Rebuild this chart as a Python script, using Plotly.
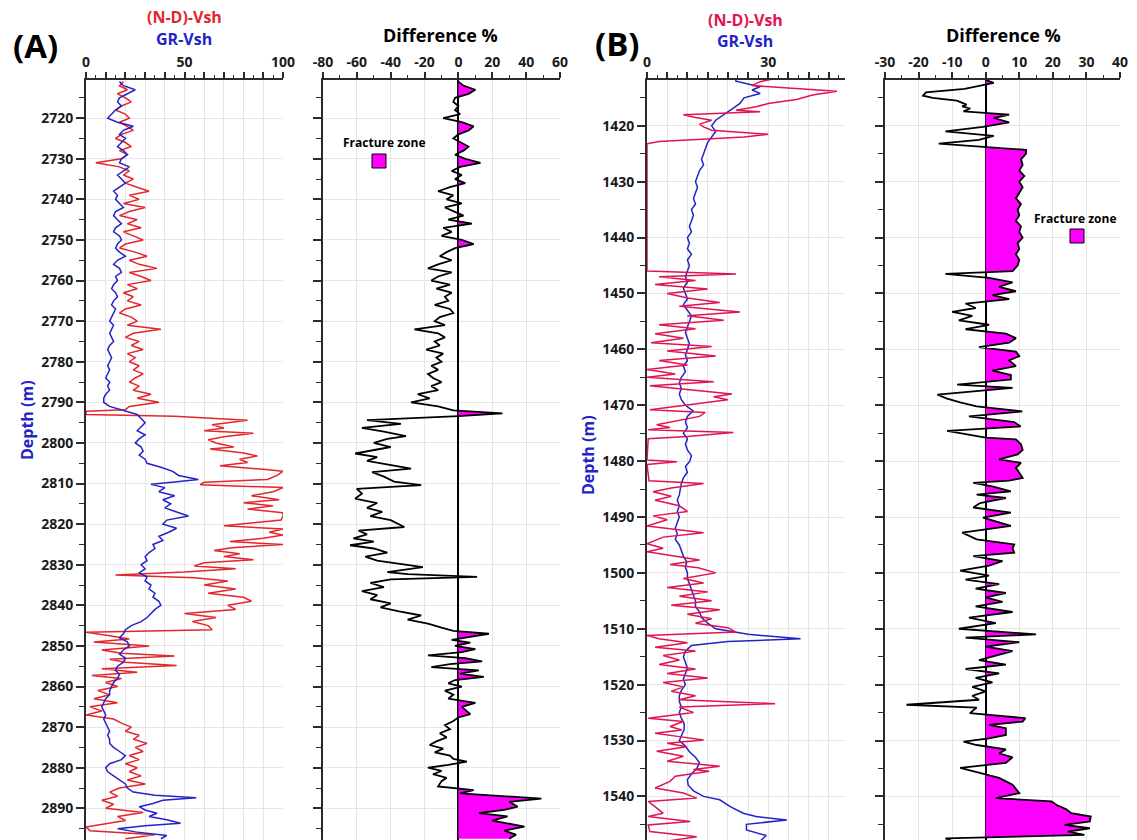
import plotly.graph_objects as go

# ---------------- DATA ----------------
# Well A
A_nd_depth = [2711, 2712, 2713, 2714, 2715, 2716, 2717, 2718, 2719, 2720, 2721, 2722, 2723, 2724, 2725, 2726, 2727, 2728, 2729, 2730,
              2731, 2732, 2733, 2734, 2735, 2736, 2737, 2738, 2739, 2740, 2741, 2742, 2743, 2744, 2745, 2746, 2747, 2748, 2749, 2750,
              2751, 2752, 2753, 2754, 2755, 2756, 2757, 2758, 2759, 2760, 2761, 2762, 2763, 2764, 2765, 2766, 2767, 2768, 2769, 2770,
              2771, 2772, 2773, 2774, 2775, 2776, 2777, 2778, 2779, 2780, 2781, 2782, 2783, 2784, 2785, 2786, 2787, 2788, 2789, 2790,
              2791, 2791.8, 2792.2, 2793, 2793.4, 2794.4, 2795.5, 2796.3, 2797, 2797.6, 2798.5, 2799.2, 2800, 2801, 2801.5, 2802.5,
              2803.2, 2804, 2804.8, 2805.6, 2806.5, 2807, 2808, 2809, 2809.7, 2810.3, 2811, 2812, 2813, 2814, 2814.7, 2815.5, 2816.3,
              2817.2, 2818, 2819, 2820.4, 2821.2, 2822, 2822.7, 2823.5, 2824.3, 2825, 2825.8, 2826.5, 2827.3, 2828, 2828.8, 2829.5,
              2830.3, 2831, 2831.8, 2832.5, 2833.2, 2834, 2835, 2836, 2837, 2838, 2839, 2840, 2841, 2842, 2843, 2844, 2845, 2846,
              2846.6, 2847.5, 2848.3, 2849, 2850, 2851, 2851.8, 2852.5, 2853.3, 2854, 2854.8, 2855.6, 2856.5, 2857.3, 2858, 2859,
              2860, 2861, 2862, 2863, 2864, 2865, 2866, 2867, 2868, 2869, 2870, 2871, 2872, 2873, 2874, 2875, 2876, 2877, 2878, 2879,
              2880, 2881, 2882, 2883, 2884, 2885, 2886, 2887, 2888, 2889, 2890, 2891, 2892, 2893, 2894, 2894.6, 2895.5, 2896.5, 2897.5]
A_nd_vsh = [19, 17, 21, 16, 20, 23, 18, 15, 20, 22, 17, 21, 24, 18, 15, 20, 23, 17, 21, 18,
            5, 17, 22, 19, 24, 20, 26, 32, 22, 27, 19, 30, 22, 17, 26, 21, 28, 19, 24, 29,
            20, 17, 25, 31, 22, 27, 36, 22, 28, 33, 21, 26, 19, 24, 21, 28, 20, 17, 23, 26,
            21, 38, 24, 20, 27, 23, 29, 21, 25, 22, 27, 24, 29, 25, 22, 27, 24, 33, 26, 37,
            22, 20, 0, 0, 45, 82, 64, 70, 60, 85, 70, 62, 66, 75, 63, 80,
            87, 78, 82, 68, 90, 100, 97, 92, 60, 58, 100, 95, 84, 98, 80, 95, 82,
            100, 100, 99, 70, 100, 93, 100, 90, 73, 100, 74, 65, 78, 70, 85, 60,
            55, 76, 50, 15, 55, 72, 60, 76, 62, 80, 84, 72, 76, 50, 66, 54, 62, 64,
            0, 12, 22, 4, 32, 8, 18, 45, 12, 20, 46, 8, 26, 3, 18, 10,
            16, 6, 12, 4, 16, 2, 8, 0, 14, 18, 23, 20, 27, 24, 31, 25, 29, 22, 27, 20,
            26, 22, 28, 21, 30, 17, 12, 16, 8, 14, 10, 29, 16, 20, 8, 0, 2, 35, 20]

A_gr_depth = [2711, 2712, 2713, 2714, 2715, 2716, 2717, 2718, 2719, 2720, 2721, 2722, 2723, 2724, 2725, 2726, 2727, 2728, 2729, 2730,
              2731, 2732, 2733, 2734, 2735, 2736, 2737, 2738, 2739, 2740, 2741, 2742, 2743, 2744, 2745, 2746, 2747, 2748, 2749, 2750,
              2751, 2752, 2753, 2754, 2755, 2756, 2757, 2758, 2759, 2760, 2761, 2762, 2763, 2764, 2765, 2766, 2767, 2768, 2769, 2770,
              2771, 2772, 2773, 2774, 2775, 2776, 2777, 2778, 2779, 2780, 2781, 2782, 2783, 2784, 2785, 2786, 2787, 2788, 2789, 2790,
              2791, 2792, 2793, 2794, 2795, 2796, 2797, 2798, 2799, 2800, 2801, 2802, 2803, 2804, 2805, 2806, 2807, 2808, 2809, 2809.6,
              2810.2, 2811, 2812, 2813, 2814, 2815, 2816, 2817, 2818, 2819, 2820, 2821, 2822, 2823, 2824, 2825, 2826, 2827, 2828, 2829,
              2830, 2831, 2832, 2833, 2834, 2835, 2836, 2837, 2838, 2839, 2840, 2841, 2842, 2843, 2844, 2845, 2846, 2847, 2848, 2849,
              2850, 2851, 2852, 2853, 2854, 2855, 2856, 2857, 2858, 2859, 2860, 2861, 2862, 2863, 2864, 2865, 2866, 2867, 2868, 2869,
              2870, 2871, 2872, 2873, 2874, 2875, 2876, 2877, 2878, 2879, 2880, 2881, 2882, 2883, 2884, 2885, 2886, 2886.8, 2887.4, 2888,
              2888.8, 2889.6, 2890.4, 2891.2, 2892, 2892.8, 2893.7, 2894.3, 2895, 2895.8, 2896.7, 2897.5]
A_gr_vsh = [17, 19, 25, 21, 17, 16, 18, 15, 13, 11, 16, 24, 19, 17, 20, 18, 16, 19, 21, 18,
            17, 22, 19, 16, 18, 20, 17, 14, 16, 15, 17, 19, 15, 14, 16, 18, 15, 14, 17, 18,
            16, 15, 17, 20, 16, 14, 17, 18, 15, 16, 14, 13, 15, 16, 14, 13, 15, 14, 13, 12,
            14, 13, 12, 13, 14, 12, 11, 12, 13, 12, 11, 12, 11, 10, 12, 11, 12, 10, 9, 9,
            12, 19, 26, 28, 30, 28, 26, 30, 27, 25, 28, 29, 27, 30, 31, 38, 44, 47, 57, 45,
            33, 40, 37, 45, 39, 43, 40, 46, 52, 41, 39, 46, 42, 37, 39, 34, 35, 32, 30, 31,
            28, 30, 27, 31, 30, 33, 32, 35, 34, 37, 38, 35, 33, 31, 28, 23, 20, 19, 17, 21,
            22, 19, 17, 20, 19, 16, 15, 17, 16, 14, 13, 12, 12, 10, 9, 8, 9, 10, 9, 10,
            11, 12, 11, 12, 12, 14, 17, 20, 18, 12, 10, 11, 14, 17, 20, 21, 24, 35, 56, 39,
            34, 27, 30, 36, 32, 41, 48, 30, 16, 25, 41, 38]

A_diff_depth = [2711, 2712, 2713, 2714, 2715, 2716, 2717, 2718, 2719, 2720, 2721, 2722, 2723, 2724, 2725, 2726, 2727, 2728, 2729, 2730,
                2731, 2732, 2733, 2734, 2735, 2736, 2737, 2738, 2739, 2740, 2741, 2742, 2743, 2744, 2745, 2746, 2747, 2748, 2749, 2750,
                2751, 2752, 2753, 2754, 2755, 2756, 2757, 2758, 2759, 2760, 2761, 2762, 2763, 2764, 2765, 2766, 2767, 2768, 2769, 2770,
                2771, 2772, 2773, 2774, 2775, 2776, 2777, 2778, 2779, 2780, 2781, 2782, 2783, 2784, 2785, 2786, 2787, 2788, 2789, 2790,
                2791, 2792, 2792.7, 2793.4, 2794.4, 2795.3, 2796.3, 2797.2, 2798.3, 2799, 2800, 2801, 2802.6, 2803.5, 2804.4, 2806.3,
                2807.2, 2808.3, 2809.5, 2810.4, 2811.3, 2812.5, 2813.7, 2814.8, 2816, 2817, 2818, 2819, 2820.7, 2821.6, 2822.5, 2823.5,
                2824.3, 2825.2, 2826, 2827, 2828, 2829, 2830.6, 2831.8, 2832.3, 2833, 2833.6, 2834.5, 2835.5, 2836.5, 2837.5, 2838.5,
                2839.5, 2840.5, 2841.5, 2842.5, 2843.5, 2844.5, 2845.5, 2846.3, 2847, 2847.8, 2848.5, 2849.2, 2850, 2850.8, 2851.5,
                2852.3, 2853, 2853.8, 2854.5, 2855.2, 2856, 2856.8, 2857.6, 2858.4, 2859.2, 2860, 2861, 2862, 2863, 2864, 2865, 2866.8,
                2867.6, 2868.5, 2869.5, 2870.5, 2871.5, 2872.5, 2873.5, 2874.4, 2875.3, 2876.2, 2877, 2877.8, 2878.5, 2879.3, 2880,
                2880.8, 2881.6, 2882.5, 2883.3, 2884.6, 2885.5, 2886.3, 2887.6, 2888.4, 2889.6, 2890.4, 2891.2, 2892, 2893, 2894.5,
                2895.5, 2896.5, 2897.5]
A_diff = [0, 3, 10, 6, -2, -3, 0, -2, 1, -9, 2, 9, 6, 0, -3, 2, 6, 3, -2, 4,
          13, 1, -4, 2, -2, 4, -5, -12, -3, -7, 2, -8, -2, 3, -6, 8, -9, -4, -10, 2,
          9, -2, -7, -11, -4, -12, -18, -4, -12, -16, -5, -13, -4, -8, -6, -14, -5, -3, -11, -14,
          -8, -26, -12, -8, -14, -11, -19, -9, -13, -10, -16, -12, -18, -15, -10, -16, -12, -24, -17, -28,
          -12, -3, 26, 0, -54, -34, -57, -44, -31, -42, -50, -40, -61, -48, -54, -28,
          -51, -44, -38, -22, -60, -57, -61, -48, -54, -45, -52, -40, -32, -59, -54, -62,
          -50, -64, -50, -42, -55, -48, -21, -42, -30, 11, -40, -52, -44, -57, -48, -52,
          -40, -46, -35, -22, -30, -18, -10, -3, 18, 6, -4, 7, -2, 10, 2,
          -18, 4, 14, -5, -16, 12, 1, 15, -2, -6, 2, -8, -3, -6, 10, 2, 7,
          0, -3, -8, -5, -11, -7, -13, -17, -9, -14, -5, -3, 5, -6, -18,
          -10, -15, -7, -10, -12, 9, 1, 49, 30, 35, 27, 12, 29, 20, 39,
          27, 34, 30]

# Well B
B_nd_depth = [1411.5, 1412.1, 1412.8, 1413.8, 1414.5, 1415.3, 1416, 1416.6, 1417.2, 1417.5, 1418, 1418.5, 1419, 1419.7, 1420.2,
              1420.8, 1421.5, 1422, 1422.8, 1423.2, 1446, 1446.5, 1447, 1447.7, 1448.4, 1449.2, 1450, 1450.8, 1451.6, 1452.3,
              1453.3, 1454, 1454.8, 1455.6, 1456.3, 1457.2, 1458, 1458.8, 1459.5, 1460.3, 1461.2, 1462, 1462.8, 1463.6, 1464.4,
              1465, 1465.8, 1466.5, 1468, 1468.5, 1469, 1469.8, 1470.8, 1471.3, 1472, 1473.5, 1474, 1474.4, 1474.9, 1475.6, 1476,
              1479.8, 1480.1, 1480.6, 1483.5, 1484, 1484.8, 1485.5, 1486.3, 1487, 1488, 1489, 1489.8, 1490.5, 1491.6, 1492.8,
              1493.6, 1494.8, 1495.6, 1496.2, 1497.7, 1498.5, 1499.1, 1500, 1501, 1501.8, 1502.6, 1503.4, 1504.2, 1505, 1505.8,
              1506.6, 1507.4, 1508.2, 1509, 1509.8, 1510.6, 1511.2, 1511.8, 1512.5, 1513.3, 1514, 1514.8, 1515.6, 1516.4, 1517.2,
              1518, 1518.8, 1519.6, 1520.4, 1521.2, 1522, 1522.7, 1523.4, 1524, 1525, 1526, 1526.6, 1527.5, 1528.1, 1528.7, 1529.3,
              1529.9, 1530.5, 1531.1, 1531.9, 1532.8, 1533.7, 1534.6, 1535.2, 1535.5, 1536.4, 1537.3, 1538.5, 1539.4, 1540.3,
              1540.9, 1543, 1543.6, 1544.5, 1545.1, 1546.3, 1547.2, 1548]
B_nd_vsh = [32, 28, 26, 47, 41, 37, 30, 27, 22, 28, 9, 12, 16, 13, 14,
            16, 30, 24, 3, 0, 0, 22, 3, 12, 2, 15, 5, 10, 18, 8,
            23, 10, 19, 3, 12, 2, 9, 1, 16, 5, 17, 3, 10, 0, 7,
            0, 16.5, 0.7, 21, 16.5, 20, 11, 0.7, 14.4, 13, 2.4, 5.7, 0.3, 21.4, 10, 0.3,
            0, 7.4, 0, 0.5, 14, 6, 1.5, 6, 2, 8, 10, 1.5, 5, 0, 14,
            4, 0, 4, 0, 13, 5.7, 12.7, 17, 9, 14, 5, 15, 8, 16, 6,
            18, 10, 16, 12, 20, 22, 0, 3, 10, 2, 12, 4, 8, 3, 12,
            5, 15, 4, 9, 6, 12, 8, 31.7, 8, 11.5, 0.3, 9, 5.7, 8.6, 2, 8,
            14, 5, 9.8, 2.4, 9, 5, 18, 11.5, 15.4, 7, 5.7, 2, 9, 12.3,
            0.3, 4, 0.3, 10.7, 0.3, 0.7, 12.3, 5]

B_gr_depth = [1411.5, 1412, 1412.5, 1413, 1413.6, 1414.2, 1415, 1416, 1417, 1418, 1419, 1420, 1421, 1422, 1423, 1424, 1425, 1426,
              1427, 1428, 1429, 1430, 1431, 1432, 1433, 1434, 1435, 1436, 1437, 1438, 1439, 1440, 1441, 1442, 1443, 1444, 1445,
              1446, 1447, 1448, 1449, 1450, 1451, 1452, 1453, 1454, 1455, 1456, 1457, 1458, 1459, 1460, 1461, 1462, 1463, 1464,
              1465, 1466, 1467, 1468, 1469, 1470, 1471, 1472, 1473, 1474, 1475, 1476, 1477, 1478, 1479, 1480, 1481, 1482, 1483,
              1484, 1485, 1486, 1487, 1488, 1489, 1490, 1491, 1492, 1493, 1494, 1495, 1496, 1497, 1498, 1499, 1500, 1501, 1502,
              1503, 1504, 1505, 1506, 1507, 1508, 1509, 1510, 1511, 1511.8, 1512.3, 1513, 1514, 1515, 1516, 1517, 1518, 1519,
              1520, 1521, 1522, 1523, 1524, 1525, 1526, 1527, 1528, 1529, 1530, 1531, 1532, 1533, 1534, 1535, 1536, 1537, 1538,
              1539, 1540, 1540.6, 1541.8, 1543, 1543.6, 1544.2, 1545, 1546, 1547, 1548]
B_gr_vsh = [22, 22, 25, 28, 26, 28, 24, 23, 21, 19, 17, 16, 17, 16, 15, 14.5, 14, 13.5,
            14, 13, 12.5, 12, 12.5, 12, 11.5, 12, 11, 11.5, 11, 10.5, 11, 10, 10.5, 10, 11, 10, 10.5,
            10, 9.5, 10, 9, 9.5, 10, 9, 10, 11, 10.5, 10, 9.5, 10, 10.5, 10, 9.5, 10, 9, 9.5,
            8.5, 8, 8.5, 8, 8.5, 9.5, 11.4, 10, 9.5, 10, 9, 10, 9.5, 10, 11, 10.6, 9.5, 10, 9,
            8.5, 8.2, 8, 7.5, 8, 7.5, 8, 7.5, 7, 7.5, 7, 8, 8.5, 9, 9.8, 9.5, 10, 10, 10.5,
            11, 11.5, 12, 12, 13, 13.5, 15, 17, 25, 38, 20, 11, 9.5, 9, 9.5, 10, 9.5, 9,
            9.5, 8.5, 8, 8, 8.5, 8, 8.5, 9.2, 9.2, 8.5, 8, 9.5, 10.5, 12, 13, 12.3, 11, 10, 10.2,
            11.5, 14, 18, 20.5, 23.8, 27, 34.6, 24.6, 24.6, 29.5, 28]

B_diff_depth = [1411.8, 1412.3, 1413.4, 1414, 1414.6, 1415, 1415.5, 1416.2, 1416.5, 1416.9, 1417.4, 1417.7, 1418, 1418.6, 1419.4,
                1420.2, 1421, 1421.8, 1422.5, 1423.2, 1423.8, 1424.3, 1425, 1426, 1427, 1428, 1429, 1430, 1431, 1432, 1433, 1434,
                1435, 1436, 1437, 1438, 1439, 1440, 1441, 1442, 1443, 1444, 1445, 1446, 1446.5, 1447.2, 1448, 1448.8, 1449.6,
                1450.3, 1451, 1451.8, 1452.6, 1453.3, 1454, 1454.8, 1455.6, 1456.4, 1457.2, 1458, 1458.8, 1459.6, 1460.4, 1461.2,
                1462, 1463, 1463.8, 1464.6, 1465.4, 1466.3, 1466.9, 1468.1, 1468.8, 1469.5, 1470.2, 1471.1, 1472, 1473, 1473.8,
                1474.6, 1475.2, 1475.8, 1476.1, 1477, 1478, 1478.8, 1479.7, 1480.3, 1481.2, 1482, 1483, 1483.5, 1483.9, 1484.5,
                1485.4, 1486, 1486.6, 1487.5, 1488.3, 1489.2, 1490.1, 1491.6, 1492.8, 1494, 1494.9, 1495.6, 1496.4, 1497, 1497.9,
                1498.7, 1499.6, 1500.5, 1501.2, 1502, 1502.8, 1503.6, 1504.4, 1505.2, 1506, 1507, 1508, 1509, 1510, 1511, 1511.6,
                1512.4, 1513.2, 1514, 1514.8, 1515.6, 1516.4, 1517.2, 1518, 1518.8, 1519.6, 1520.4, 1521.2, 1522, 1522.7, 1523.6,
                1524.1, 1525.1, 1526, 1526.6, 1527.2, 1527.8, 1529, 1529.6, 1530.2, 1530.8, 1531.6, 1532.3, 1533, 1534, 1534.9,
                1535.8, 1536.7, 1537.9, 1538.6, 1539.4, 1540.3, 1540.9, 1541.5, 1542.3, 1543, 1543.6, 1544.5, 1545.1, 1545.7,
                1546.3, 1546.9, 1547.5, 1548]
B_diff = [0, 2.4, -6.3, -17.8, -18.7, -15.8, -8.6, -5.7, -7, -4.6, -6.6, -0.8, 7, 2.4, 7,
          -0.8, -12, 2.4, -2, -14, -1, 12, 12, 10.5, 11, 10, 11.5, 10, 11, 10, 9, 10.5,
          9.5, 10, 9, 10.5, 10, 11, 9.5, 10, 9, 10, 9.5, 8, -12, 1, 8, 4, 9,
          2, 7, -6, -3, -10, -4, -8, 1, -6, 6, 9, 7, -2, 9, 10,
          7, 9, 2, 7.5, 7.5, -8.5, 8, -14.4, -11.5, -7.6, -2.7, 10.9, -5, 8.5, 10.4,
          -11.5, -5.7, 0, 9, 10.5, 11, 9.5, 4, 10.5, 9, 10, 11, 7, -3.7, 2,
          7.5, -2.7, 6, -1.7, -3.7, 7.5, -0.8, 7.5, -7, -2.7, 8.5, 8, 8.5, -3.7, 5,
          1, -7.6, 1, -6, 4, -3, 6, 0, 5, -3, 8, -5, 3, -8, 15, -6,
          10, 0, 8, 3, -2, 6, -6, 4, -3, 2, -4, 0, -4, -2, -23.6,
          -2.7, -4.7, 11.8, 11, 1, 6, 6, 1, -6.6, -2.7, 6, 4, 8, 6, -7.6,
          -1.7, 4, 8, 9, 10, 3, 19.6, 21, 24, 25.5, 31.3, 31, 23.5, 31,
          24.5, 29.4, -12, -10]

A_vsh_ticks = [0, 50, 100]
A_diff_ticks = [-80, -60, -40, -20, 0, 20, 40, 60]
B_vsh_ticks = [0, 30]
B_diff_ticks = [-30, -20, -10, 0, 10, 20, 30, 40]

# ---------------- STYLE ----------------
W, H = 1137, 840
FONT = "Open Sans"
AX = "#2b2b2b"
GRID = "#e6e6e6"
RED_A = "#e3262b"
BLUE = "#2323c8"
RED_B = "#e0154f"
MAG = "#ff00ff"


def pxx(x):
    return x / W


def pxy(y):
    return 1 - y / H


def positive_fill(depth, vals):
    xs, ys = [], []
    cur = None

    def flush(c):
        for p in c:
            xs.append(p[0]); ys.append(p[1])
        xs.append(None); ys.append(None)

    for i in range(len(depth)):
        d, v = depth[i], vals[i]
        if i > 0:
            d0, v0 = depth[i - 1], vals[i - 1]
            if (v0 > 0) != (v > 0):
                t = v0 / (v0 - v)
                dc = d0 + t * (d - d0)
                if cur is None:
                    cur = [(0, dc)]
                else:
                    cur.append((0, dc))
                    flush(cur)
                    cur = None
        if v > 0:
            if cur is None:
                cur = [(0, d)]
            cur.append((v, d))
    if cur:
        cur.append((0, depth[-1]))
        flush(cur)
    return xs, ys


fig = go.Figure()

# Panel A – Vsh
fig.add_trace(go.Scatter(x=A_nd_vsh, y=A_nd_depth, mode="lines", line=dict(color=RED_A, width=1.5),
                         xaxis="x", yaxis="y", name="(N-D)-Vsh"))
fig.add_trace(go.Scatter(x=A_gr_vsh, y=A_gr_depth, mode="lines", line=dict(color=BLUE, width=1.5),
                         xaxis="x", yaxis="y", name="GR-Vsh"))
# Panel A – difference
fx, fy = positive_fill(A_diff_depth, A_diff)
fig.add_trace(go.Scatter(x=fx, y=fy, mode="lines", fill="toself", fillcolor=MAG, line=dict(width=0, color=MAG),
                         xaxis="x2", yaxis="y2", hoverinfo="skip", name="Fracture zone"))
fig.add_trace(go.Scatter(x=A_diff, y=A_diff_depth, mode="lines", line=dict(color="black", width=1.8),
                         xaxis="x2", yaxis="y2", name="Difference"))
# Panel B – Vsh
fig.add_trace(go.Scatter(x=B_gr_vsh, y=B_gr_depth, mode="lines", line=dict(color=BLUE, width=1.5),
                         xaxis="x3", yaxis="y3", name="GR-Vsh"))
fig.add_trace(go.Scatter(x=B_nd_vsh, y=B_nd_depth, mode="lines", line=dict(color=RED_B, width=1.5),
                         xaxis="x3", yaxis="y3", name="(N-D)-Vsh"))
# Panel B – difference
fx, fy = positive_fill(B_diff_depth, B_diff)
fig.add_trace(go.Scatter(x=fx, y=fy, mode="lines", fill="toself", fillcolor=MAG, line=dict(width=0, color=MAG),
                         xaxis="x4", yaxis="y4", hoverinfo="skip", name="Fracture zone"))
fig.add_trace(go.Scatter(x=B_diff, y=B_diff_depth, mode="lines", line=dict(color="black", width=1.8),
                         xaxis="x4", yaxis="y4", name="Difference"))

tickfont = dict(family=FONT, size=14, color="#1a1a1a", weight="bold")


def xax(x0, x1, rng, gridvals, labels, minor_dt, zero=False):
    return dict(domain=[pxx(x0), pxx(x1)], range=rng, side="top", automargin=False,
                tickmode="array", tickvals=gridvals,
                ticktext=[(str(v) if v in labels else "") for v in gridvals],
                showline=True, linecolor=AX, linewidth=1.6, ticks="outside", ticklen=6, tickwidth=1.5,
                tickcolor=AX, showgrid=True, gridcolor=GRID, gridwidth=1,
                zeroline=zero, zerolinecolor="black", zerolinewidth=1.5,
                tickfont=tickfont, fixedrange=True,
                minor=dict(tickmode="linear", tick0=0, dtick=minor_dt, ticks="outside", ticklen=3,
                           tickwidth=1.2, tickcolor=AX, showgrid=False))


def yax(rng, labels=True):
    return dict(domain=[0, pxy(80)], range=rng, tickmode="linear", tick0=0, dtick=10, automargin=False,
                showline=True, linecolor=AX, linewidth=1.6, ticks="outside", ticklen=8, tickwidth=1.5,
                tickcolor=AX, showgrid=True, gridcolor=GRID, gridwidth=1, zeroline=False,
                showticklabels=labels, tickfont=tickfont, fixedrange=True,
                minor=dict(tickmode="linear", tick0=0, dtick=5, ticks="outside", ticklen=5, tickwidth=1.3,
                           tickcolor=AX, showgrid=False))


A_range = [2897.8, 2710.6]
B_range = [1547.8, 1411.8]

fig.update_layout(
    width=W, height=H, margin=dict(l=0, r=0, t=0, b=0, autoexpand=False),
    paper_bgcolor="white", plot_bgcolor="white", showlegend=False,
    font=dict(family=FONT),
    xaxis=xax(86, 283, [0, 100], list(range(0, 101, 10)), A_vsh_ticks, 5) | dict(anchor="y"),
    yaxis=yax(A_range) | dict(anchor="x"),
    xaxis2=xax(323, 560, [-80, 60], list(range(-80, 61, 20)), A_diff_ticks, 10, zero=True) | dict(anchor="y2"),
    yaxis2=yax(A_range, labels=False) | dict(anchor="x2"),
    xaxis3=xax(647, 845, [0, 49], list(range(0, 50, 5)), B_vsh_ticks, 2.5) | dict(anchor="y3"),
    yaxis3=yax(B_range) | dict(anchor="x3"),
    xaxis4=xax(885, 1120, [-30, 40], list(range(-30, 41, 10)), B_diff_ticks, 5, zero=True) | dict(anchor="y4"),
    yaxis4=yax(B_range, labels=False) | dict(anchor="x4"),
)


def ann(text, x, y, size, color="black", angle=0):
    fig.add_annotation(text=text, x=pxx(x), y=pxy(y), xref="paper", yref="paper", showarrow=False,
                       xanchor="center", yanchor="middle", textangle=angle,
                       font=dict(family=FONT, size=size, color=color, weight="bold"))


ann("(A)", 35, 45, 33)
ann("(B)", 617, 43, 33)
ann("(N-D)-Vsh", 184, 17, 16, RED_A)
ann("GR-Vsh", 184, 39, 16, BLUE)
ann("(N-D)-Vsh", 745, 20, 16, RED_B)
ann("GR-Vsh", 745, 41, 16, BLUE)
ann("Difference %", 441, 35, 18)
ann("Difference %", 1003, 35, 18)
ann("Depth (m)", 27, 420, 16, BLUE, -90)
ann("Depth (m)", 588, 455, 16, BLUE, -90)
ann("Fracture zone", 384, 142, 12)
ann("Fracture zone", 1075, 219, 12)

for cx, cy in [(379, 161), (1077, 236)]:
    fig.add_shape(type="rect", xref="paper", yref="paper", x0=pxx(cx - 7), x1=pxx(cx + 7),
                  y0=pxy(cy + 7), y1=pxy(cy - 7), fillcolor=MAG, line=dict(color="black", width=1))

fig.write_html("out.html", config=dict(responsive=False))
